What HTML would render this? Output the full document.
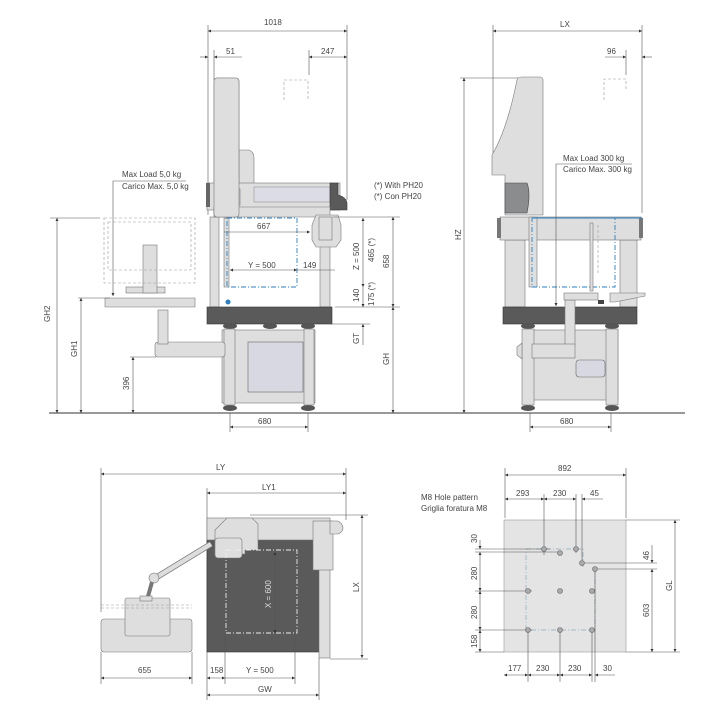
<!DOCTYPE html>
<html><head><meta charset="utf-8"><style>
html,body{margin:0;padding:0;background:#fff}
svg{display:block}
text{font-family:"Liberation Sans",sans-serif;font-size:8px;fill:#444}
.d{stroke:#555;stroke-width:0.6;fill:none}
.ds{stroke:#999;stroke-width:0.6;fill:none;stroke-dasharray:3 2}
.b{stroke:#2a7fc0;stroke-width:0.9;fill:none;stroke-dasharray:5 2 1 2}
.w{stroke:#eee;stroke-width:0.9;fill:none;stroke-dasharray:5 2 1 2}
.p{fill:#dedede;stroke:#777;stroke-width:0.6}
.g{fill:#5a5a5a;stroke:#333;stroke-width:0.6}
.pn{fill:#d8d8e2;stroke:#666;stroke-width:0.6}
</style></head><body>
<svg width="717" height="709" viewBox="0 0 717 709" xmlns="http://www.w3.org/2000/svg">
<defs><marker id="a" viewBox="0 0 6 6" refX="6" refY="3" markerWidth="5" markerHeight="5" orient="auto-start-reverse"><path d="M0,0L6,3L0,6z" fill="#333"/></marker></defs>

<!-- ground -->
<line x1="49" y1="413" x2="685" y2="413" stroke="#333" stroke-width="1"/>

<!-- ===== FRONT VIEW ===== -->
<line class="d" x1="208" y1="25" x2="208" y2="215"/><line class="d" x1="347" y1="25" x2="347" y2="200"/>
<line class="d" x1="208" y1="31" x2="347" y2="31" marker-start="url(#a)" marker-end="url(#a)"/><text x="264" y="25">1018</text>
<line class="d" x1="214" y1="50" x2="214" y2="80"/><line class="d" x1="309" y1="50" x2="309" y2="75"/>
<line class="d" x1="200" y1="57" x2="208" y2="57" marker-end="url(#a)"/><line class="d" x1="214" y1="57" x2="242" y2="57" marker-start="url(#a)"/><text x="226" y="54">51</text>
<line class="d" x1="309" y1="57" x2="347" y2="57" marker-start="url(#a)" marker-end="url(#a)"/><text x="321" y="54">247</text>
<path class="ds" d="M284,100V80h24v20"/>
<rect class="p" x="214" y="78" width="25" height="139" rx="3"/>
<path class="p" d="M239,150h10q5,2 5,8v52h-15z"/>
<rect class="p" x="210" y="217" width="9" height="90"/>
<rect class="p" x="207" y="183" width="133" height="27"/>
<rect x="254" y="187" width="76" height="15" fill="#dcdce6" stroke="#888" stroke-width="0.5"/>
<path class="g" d="M330,183h8v12q8,2 9,8v7h-17z" fill="#777"/>
<rect x="206" y="183" width="4" height="24" fill="#666"/>
<rect class="p" x="220" y="189" width="20" height="16"/>
<path class="p" d="M214,207h116v10h-116z"/>
<rect class="p" x="214" y="78" width="25" height="139" rx="3" fill="none"/>
<rect class="p" x="320" y="240" width="10" height="67"/>
<path class="p" d="M316,215h22l3,10v15l-5,7h-20l-4,-7v-15z"/>
<rect class="p" x="319" y="217" width="13" height="23"/>
<rect class="p" x="224" y="218" width="5" height="69"/>
<rect class="b" x="227" y="218" width="70" height="69"/>
<circle cx="228" cy="302" r="2.5" fill="#2a7fc0"/>
<line class="d" x1="224" y1="232" x2="310" y2="232" marker-end="url(#a)"/><text x="257" y="229">667</text>
<line class="d" x1="230" y1="270" x2="297" y2="270" marker-start="url(#a)" marker-end="url(#a)"/><text x="248" y="268">Y = 500</text>
<line class="d" x1="297" y1="270" x2="335" y2="270"/><text x="303" y="268">149</text>
<rect class="g" x="207" y="307" width="125" height="17"/>
<g fill="#555"><ellipse cx="230" cy="326" rx="7" ry="3"/><ellipse cx="270" cy="326" rx="7" ry="3"/><ellipse cx="308" cy="326" rx="7" ry="3"/><ellipse cx="230" cy="408" rx="7" ry="3"/><ellipse cx="308" cy="408" rx="7" ry="3"/></g>
<rect class="p" x="222" y="330" width="93" height="73"/>
<rect class="p" x="224" y="329" width="11" height="76"/><rect class="p" x="304" y="329" width="10" height="76"/>
<rect class="pn" x="248" y="342" width="55" height="50"/>
<rect class="p" x="155" y="342" width="70" height="15" rx="3"/>
<rect class="p" x="158" y="310" width="10" height="34"/>
<path class="p" d="M105,298h90v9h-90z"/>
<rect class="p" x="126" y="287" width="39" height="6"/>
<rect class="p" x="143" y="245" width="14" height="48"/>
<rect class="ds" x="104" y="218" width="91" height="65"/>
<rect class="ds" x="108" y="222" width="83" height="48"/>
<text x="122" y="177">Max Load 5,0 kg</text><text x="122" y="189">Carico Max. 5,0 kg</text>
<path class="d" d="M186,181H113V296" marker-end="url(#a)"/>
<line class="d" x1="50" y1="218" x2="100" y2="218"/>
<line class="d" x1="57" y1="218" x2="57" y2="413" marker-start="url(#a)" marker-end="url(#a)"/>
<text transform="translate(50,322) rotate(-90)">GH2</text>
<line class="d" x1="78" y1="298" x2="110" y2="298"/>
<line class="d" x1="81" y1="298" x2="81" y2="413" marker-start="url(#a)" marker-end="url(#a)"/>
<text transform="translate(77,357) rotate(-90)">GH1</text>
<line class="d" x1="130" y1="357" x2="156" y2="357"/>
<line class="d" x1="133" y1="357" x2="133" y2="413" marker-start="url(#a)" marker-end="url(#a)"/>
<text transform="translate(129,390) rotate(-90)">396</text>
<line class="d" x1="333" y1="217" x2="400" y2="217"/><line class="d" x1="335" y1="307" x2="400" y2="307"/><line class="d" x1="330" y1="324" x2="370" y2="324"/>
<line class="d" x1="363" y1="218" x2="363" y2="287" marker-start="url(#a)" marker-end="url(#a)"/>
<text transform="translate(359,270) rotate(-90)">Z = 500</text>
<text transform="translate(374,262) rotate(-90)">465 (*)</text>
<line class="d" x1="363" y1="287" x2="363" y2="307" marker-end="url(#a)"/>
<text transform="translate(359,302) rotate(-90)">140</text>
<text transform="translate(374,306) rotate(-90)">175 (*)</text>
<line class="d" x1="393" y1="217" x2="393" y2="307" marker-start="url(#a)" marker-end="url(#a)"/>
<text transform="translate(389,268) rotate(-90)">658</text>
<line class="d" x1="363" y1="324" x2="363" y2="345" marker-start="url(#a)"/>
<text transform="translate(359,344) rotate(-90)">GT</text>
<line class="d" x1="393" y1="307" x2="393" y2="413" marker-start="url(#a)" marker-end="url(#a)"/>
<text transform="translate(389,365) rotate(-90)">GH</text>
<text x="374" y="188">(*) With PH20</text><text x="374" y="199">(*) Con PH20</text>
<line class="d" x1="230" y1="413" x2="230" y2="432"/><line class="d" x1="308" y1="413" x2="308" y2="432"/>
<line class="d" x1="230" y1="427" x2="308" y2="427" marker-start="url(#a)" marker-end="url(#a)"/><text x="258" y="424">680</text>

<!-- ===== SIDE VIEW ===== -->
<line class="d" x1="493" y1="25" x2="493" y2="155"/><line class="d" x1="642" y1="25" x2="642" y2="213"/>
<line class="d" x1="493" y1="31" x2="642" y2="31" marker-start="url(#a)" marker-end="url(#a)"/><text x="560" y="27">LX</text>
<line class="d" x1="626" y1="50" x2="626" y2="75"/>
<line class="d" x1="605" y1="57" x2="626" y2="57" marker-end="url(#a)"/><line class="d" x1="642" y1="57" x2="652" y2="57" marker-start="url(#a)"/><text x="607" y="54">96</text>
<path class="ds" d="M604,100V79h22v10"/>
<line class="d" x1="460" y1="78" x2="520" y2="78"/>
<line class="d" x1="464" y1="78" x2="464" y2="413" marker-start="url(#a)" marker-end="url(#a)"/>
<text transform="translate(461,240) rotate(-90)">HZ</text>
<path class="p" d="M522,77h18q3,0 3,3v135h-38v-40h-13v-20q15,-25 25,-75v-0q0,-3 5,-3z"/>
<path d="M505,183h22q4,10 0,30h-22z" fill="#8a8c8e" stroke="#444" stroke-width="0.6"/>
<rect class="p" x="505" y="240" width="20" height="67"/><rect class="p" x="620" y="240" width="17" height="67"/>
<rect class="p" x="500" y="217" width="141" height="23"/>
<rect x="497" y="218" width="4" height="20" fill="#777"/><rect x="639" y="218" width="4" height="20" fill="#777"/>
<line x1="530" y1="218" x2="642" y2="218" stroke="#2a7fc0" stroke-width="1"/>
<rect class="p" x="529" y="217" width="8" height="70"/>
<rect class="b" x="532" y="218" width="83" height="69"/>
<path class="ds" d="M598,225v50"/><rect class="p" x="590" y="223" width="3" height="68"/>
<text x="563" y="161">Max Load 300 kg</text><text x="563" y="172">Carico Max. 300 kg</text>
<path class="d" d="M632,164H556V306" marker-end="url(#a)"/>
<rect class="g" x="503" y="307" width="134" height="17"/>
<g fill="#555"><ellipse cx="528" cy="326" rx="7" ry="3"/><ellipse cx="612" cy="326" rx="7" ry="3"/><ellipse cx="528" cy="408" rx="7" ry="3"/><ellipse cx="612" cy="408" rx="7" ry="3"/></g>
<rect class="p" x="523" y="330" width="95" height="70"/>
<rect class="p" x="522" y="329" width="12" height="76"/><rect class="p" x="606" y="329" width="12" height="76"/>
<rect class="pn" x="576" y="360" width="29" height="17" rx="3"/>
<rect class="p" x="565" y="300" width="10" height="45"/>
<rect class="p" x="532" y="344" width="43" height="14"/><path class="p" d="M517,347l5,-4v16l-5,-4z"/>
<rect class="p" x="564" y="293" width="34" height="7"/>
<path class="p" d="M610,293h35v3l-30,6h-5z"/>
<rect x="598" y="300" width="6" height="4" fill="#444"/>
<line class="d" x1="530" y1="413" x2="530" y2="432"/><line class="d" x1="611" y1="413" x2="611" y2="432"/>
<line class="d" x1="530" y1="427" x2="611" y2="427" marker-start="url(#a)" marker-end="url(#a)"/><text x="560" y="424">680</text>

<!-- ===== TOP VIEW ===== -->
<line class="d" x1="101" y1="468" x2="101" y2="612"/><line class="d" x1="346" y1="468" x2="346" y2="520"/><line class="d" x1="207" y1="488" x2="207" y2="700"/>
<line class="d" x1="101" y1="474" x2="346" y2="474" marker-start="url(#a)" marker-end="url(#a)"/><text x="216" y="470">LY</text>
<line class="d" x1="207" y1="493" x2="346" y2="493" marker-start="url(#a)" marker-end="url(#a)"/><text x="262" y="490">LY1</text>
<line class="d" x1="250" y1="515" x2="368" y2="515"/><line class="d" x1="330" y1="659" x2="368" y2="659"/>
<line class="d" x1="362" y1="515" x2="362" y2="658" marker-start="url(#a)" marker-end="url(#a)"/>
<text transform="translate(359,592) rotate(-90)">LX</text>
<rect class="g" x="207" y="540" width="112" height="112"/>
<rect class="p" x="319" y="540" width="11" height="118"/>
<rect class="p" x="207" y="518" width="123" height="22"/>
<rect class="p" x="313" y="521" width="20" height="49"/>
<path class="p" d="M330,521h8q5,3 5,7q0,4 -5,6h-8z"/>
<path class="p" d="M215,530l12,-12h25l6,6v26h-13v4h-30z"/>
<rect class="p" x="215" y="538" width="27" height="20" rx="3"/>
<path d="M211,544L157,577" stroke="#777" stroke-width="6"/><path d="M211,544L157,577" stroke="#ddd" stroke-width="4.5"/>
<circle class="p" cx="154" cy="578" r="5"/>
<path d="M152,582L147,600" stroke="#777" stroke-width="4"/>
<rect class="p" x="101" y="619" width="91" height="33" rx="3"/>
<rect class="p" x="125" y="598" width="45" height="38" rx="2"/>
<rect class="p" x="140" y="596" width="12" height="5"/>
<line class="ds" x1="101" y1="605" x2="192" y2="605"/><line class="ds" x1="101" y1="608" x2="192" y2="608"/>
<rect class="w" x="226" y="550" width="71" height="83"/>
<line class="d" x1="275" y1="552" x2="275" y2="633" marker-start="url(#a)" marker-end="url(#a)" stroke="#111"/>
<text transform="translate(271,608) rotate(-90)" style="fill:#ddd">X = 600</text>
<line class="d" x1="101" y1="652" x2="101" y2="684"/><line class="d" x1="192" y1="652" x2="192" y2="684"/>
<line class="d" x1="101" y1="678" x2="192" y2="678" marker-start="url(#a)" marker-end="url(#a)"/><text x="138" y="673">655</text>
<line class="d" x1="225" y1="633" x2="225" y2="684"/><line class="d" x1="295" y1="633" x2="295" y2="684"/>
<line class="d" x1="207" y1="678" x2="225" y2="678" marker-start="url(#a)" marker-end="url(#a)"/><text x="210" y="673">158</text>
<line class="d" x1="225" y1="678" x2="295" y2="678" marker-end="url(#a)"/><text x="246" y="673">Y = 500</text>
<line class="d" x1="319" y1="658" x2="319" y2="700"/>
<line class="d" x1="207" y1="695" x2="319" y2="695" marker-start="url(#a)" marker-end="url(#a)"/><text x="258" y="692">GW</text>

<!-- ===== HOLE PATTERN ===== -->
<text x="421" y="500">M8 Hole pattern</text><text x="421" y="511">Griglia foratura M8</text>
<line class="d" x1="505" y1="468" x2="505" y2="518"/><line class="d" x1="626" y1="468" x2="626" y2="518"/>
<line class="d" x1="505" y1="475" x2="626" y2="475" marker-start="url(#a)" marker-end="url(#a)"/><text x="558" y="471">892</text>
<rect x="504" y="520" width="122" height="132" fill="#e4e4e4" stroke="#999" stroke-width="0.6"/>
<path d="M526,549h57v18" stroke="#8ab" stroke-width="0.7" fill="none" stroke-dasharray="5 2 1 2"/>
<path d="M595,569v61h-69v-81" stroke="#8ab" stroke-width="0.7" fill="none" stroke-dasharray="5 2 1 2"/>
<g class="d">
<line x1="544" y1="494" x2="544" y2="555"/><line x1="576" y1="494" x2="576" y2="553"/><line x1="582" y1="494" x2="582" y2="566"/>
<line x1="475" y1="549" x2="550" y2="549"/><line x1="475" y1="552" x2="560" y2="552"/>
<line x1="475" y1="591" x2="532" y2="591"/><line x1="475" y1="630" x2="532" y2="630"/><line x1="475" y1="652" x2="504" y2="652"/>
<line x1="585" y1="563" x2="657" y2="563"/><line x1="598" y1="569" x2="657" y2="569"/>
<line x1="626" y1="520" x2="680" y2="520"/><line x1="626" y1="652" x2="680" y2="652"/>
<line x1="528" y1="630" x2="528" y2="682"/><line x1="560" y1="630" x2="560" y2="682"/><line x1="592" y1="630" x2="592" y2="682"/><line x1="595" y1="569" x2="595" y2="682"/>
</g>
<line class="d" x1="505" y1="499" x2="544" y2="499" marker-start="url(#a)" marker-end="url(#a)"/><text x="516" y="496">293</text>
<line class="d" x1="544" y1="499" x2="576" y2="499" marker-start="url(#a)" marker-end="url(#a)"/><text x="553" y="496">230</text>
<line class="d" x1="582" y1="499" x2="603" y2="499" marker-start="url(#a)"/><text x="590" y="496">45</text>
<line class="d" x1="480" y1="540" x2="480" y2="549" marker-end="url(#a)"/><text transform="translate(477,543) rotate(-90)">30</text>
<line class="d" x1="480" y1="552" x2="480" y2="591" marker-start="url(#a)" marker-end="url(#a)"/><text transform="translate(477,580) rotate(-90)">280</text>
<line class="d" x1="480" y1="591" x2="480" y2="630" marker-start="url(#a)" marker-end="url(#a)"/><text transform="translate(477,619) rotate(-90)">280</text>
<line class="d" x1="480" y1="630" x2="480" y2="652" marker-start="url(#a)" marker-end="url(#a)"/><text transform="translate(477,648) rotate(-90)">158</text>
<line class="d" x1="652" y1="545" x2="652" y2="563" marker-end="url(#a)"/><text transform="translate(649,560) rotate(-90)">46</text>
<line class="d" x1="652" y1="569" x2="652" y2="652" marker-start="url(#a)" marker-end="url(#a)"/><text transform="translate(649,617) rotate(-90)">603</text>
<line class="d" x1="675" y1="520" x2="675" y2="652" marker-start="url(#a)" marker-end="url(#a)"/><text transform="translate(672,591) rotate(-90)">GL</text>
<line class="d" x1="504" y1="675" x2="528" y2="675" marker-start="url(#a)" marker-end="url(#a)"/><text x="508" y="671">177</text>
<line class="d" x1="528" y1="675" x2="560" y2="675" marker-start="url(#a)" marker-end="url(#a)"/><text x="536" y="671">230</text>
<line class="d" x1="560" y1="675" x2="592" y2="675" marker-start="url(#a)" marker-end="url(#a)"/><text x="568" y="671">230</text>
<line class="d" x1="595" y1="675" x2="615" y2="675" marker-start="url(#a)"/><text x="603" y="671">30</text>
<g fill="#aaa" stroke="#666" stroke-width="0.6">
<circle cx="544" cy="549" r="2.5"/><circle cx="560" cy="553" r="2.5"/><circle cx="576" cy="549" r="2.5"/><circle cx="582" cy="563" r="2.5"/><circle cx="595" cy="569" r="2.5"/>
<circle cx="528" cy="591" r="2.5"/><circle cx="560" cy="591" r="2.5"/><circle cx="592" cy="591" r="2.5"/>
<circle cx="528" cy="630" r="2.5"/><circle cx="560" cy="630" r="2.5"/><circle cx="592" cy="630" r="2.5"/>
</g>
</svg>
</body></html>
